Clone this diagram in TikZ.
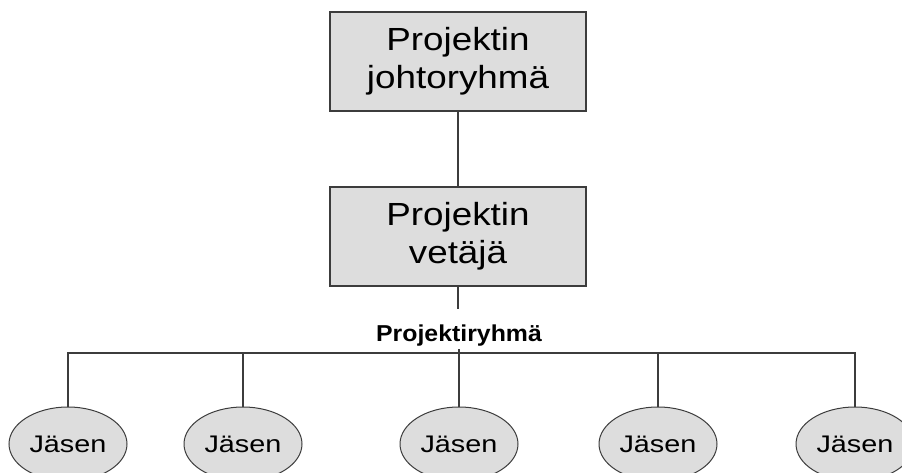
\documentclass[tikz,border=0pt]{standalone}
\usepackage{fontspec}
\usepackage{tikz}
\usetikzlibrary{positioning, shapes.geometric}

\newfontfamily\boxfont[FakeStretch=1.15]{Liberation Sans}
\newfontfamily\memfont[FakeStretch=1.2]{Liberation Sans}
\newfontfamily\grpfont[FakeStretch=1.08]{Liberation Sans}

\definecolor{fillgray}{RGB}{221,221,221}
\definecolor{linegray}{RGB}{60,60,60}

\tikzset{
  orgbox/.style={rectangle, draw=linegray, fill=fillgray, line width=1.4pt,
    minimum width=256pt, minimum height=99pt, align=center,
    font=\boxfont\fontsize{32}{38}\selectfont},
  member/.style={ellipse, draw=linegray, fill=fillgray, line width=1pt,
    minimum width=118pt, minimum height=74pt, inner sep=0pt,
    font=\memfont\fontsize{24}{28}\selectfont},
  grouplabel/.style={inner sep=0pt, inner ysep=3pt, text height=28pt,
    font=\grpfont\bfseries\fontsize{23}{27}\selectfont},
}

\begin{document}
\begin{tikzpicture}[x=1pt, y=-1pt, line width=1.3pt, draw=linegray, on grid]
  \useasboundingbox (0,0) rectangle (902,473);

  % Leadership boxes
  \node (board) [orgbox] at (458,61.5) {Projektin\\johtoryhmä};
  \node (lead) [orgbox, below=175pt of board] {Projektin\\vetäjä};

  % Team label and bus
  \node (team) [grouplabel, anchor=base] at (459,341) {Projektiryhmä};
  \coordinate (bus) at (459,353);

  % Team members
  \node (m1) [member] at (68,444) {Jäsen};
  \node (m2) [member, right=175pt of m1] {Jäsen};
  \node (m3) [member, right=216pt of m2] {Jäsen};
  \node (m4) [member, right=199pt of m3] {Jäsen};
  \node (m5) [member, right=197pt of m4] {Jäsen};

  % Connectors
  \draw (board) -- (lead);
  \draw (lead.south) -- (lead.south |- team.north);
  \draw (team.south) -- (m3.north);
  \draw (m1.north) |- (bus) -| (m5.north);
  \foreach \m in {m2, m4}
    \draw (bus) -| (\m.north);
\end{tikzpicture}
\end{document}
